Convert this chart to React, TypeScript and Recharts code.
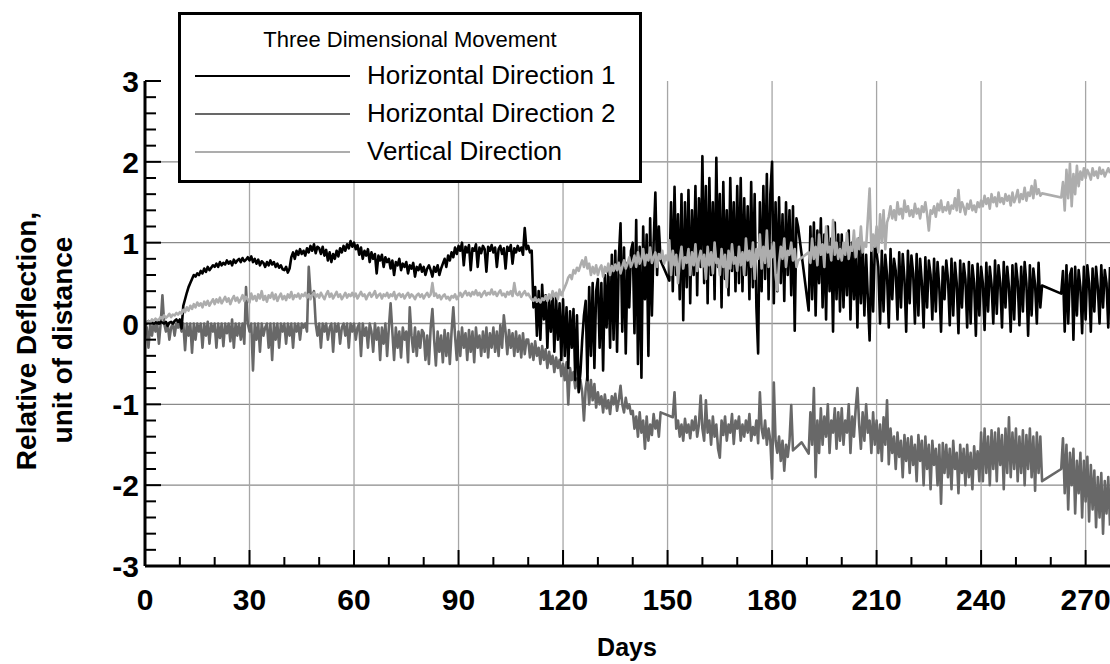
import { LineChart, Line, XAxis, YAxis, CartesianGrid } from 'recharts'

// one reading every half day (null = no record, line is bridged)
const STEP = 0.5

const horiz1 = [
  0.02, 0, 0.03, 0.01, 0.02, 0, 0.01, 0.03, 0, 0.02, 0.01, 0, 0.02, -0.03, 0.01, 0.02, 0, 0.03, 0.05, 0.02,
  0.05, -0.06, 0.22, 0.3, 0.38, 0.45, 0.5, 0.55, 0.6, 0.58, 0.62, 0.6, 0.65, 0.62, 0.68, 0.64, 0.7, 0.66, 0.69, 0.72,
  0.7, 0.74, 0.7, 0.76, 0.72, 0.75, 0.73, 0.78, 0.74, 0.77, 0.72, 0.79, 0.75, 0.78, 0.8, 0.76, 0.81, 0.77, 0.79, 0.82,
  0.78, 0.83, 0.76, 0.8, 0.74, 0.79, 0.72, 0.77, 0.75, 0.7, 0.76, 0.72, 0.78, 0.73, 0.76, 0.7, 0.74, 0.69, 0.72, 0.67,
  0.66, 0.7, 0.63, 0.68, 0.82, 0.88, 0.8, 0.9, 0.85, 0.92, 0.86, 0.9, 0.84, 0.93, 0.88, 0.96, 0.9, 0.98, 0.87, 0.95,
  0.93, 0.86, 0.95, 0.84, 0.91, 0.78, 0.88, 0.76, 0.86, 0.8, 0.9, 0.83, 0.93, 0.88, 0.96, 0.9, 0.98, 0.93, 1.02, 0.95,
  1.0, 0.92, 0.97, 0.85, 0.94, 0.8, 0.9, 0.84, 0.92, 0.76, 0.88, 0.8, 0.86, 0.62, 0.84, 0.78, 0.85, 0.7, 0.82, 0.76,
  0.8, 0.68, 0.78, 0.6, 0.76, 0.72, 0.8, 0.66, 0.74, 0.7, 0.76, 0.62, 0.72, 0.68, 0.75, 0.58, 0.7, 0.66, 0.73, 0.64,
  0.7, 0.6, 0.68, 0.72, 0.66, 0.58, 0.7, 0.64, 0.72, 0.6, 0.68, 0.74, 0.8, 0.7, 0.84, 0.78, 0.88, 0.82, 0.94, 0.86,
  0.96, 0.9, 1.0, 0.72, 0.95, 0.88, 0.97, 0.66, 0.93, 0.9, 0.98, 0.7, 0.94, 0.87, 0.96, 0.92, 0.64, 0.95, 0.9, 0.97,
  0.88, 0.94, 0.7, 0.92, 0.96, 0.86, 0.93, 0.68, 0.95, 0.9, 0.97, 0.74, 0.93, 0.88, 0.96, 0.9, 0.94, 0.85, 1.18, 0.92,
  0.96, 0.88, 0.9, 0.2, 0.45, -0.15, 0.4, -0.2, 0.48, 0.05, 0.35, -0.3, 0.3, -0.1, 0.38, -0.35, 0.32, -0.2, 0.25, -0.45,
  0.3, -0.4, 0.2, -0.55, 0.15, -0.3, 0.18, -0.7, 0.1, -0.85, -0.6, -0.2, 0.1, 0.28, -0.7, 0.45, -0.4, 0.5, -0.55, 0.4,
  0.55, -0.3, 0.5, -0.58, 0.6, -0.05, 0.7, -0.3, 0.85, -0.2, 0.9, -0.35, 0.8, 1.24, -0.1, 0.94, -0.37, 0.75, 0.2, 0.9,
  1.0, -0.12, 1.28, -0.5, 0.95, -0.67, 1.2, 0.3, 1.1, -0.4, 1.3, 0.1, 1.0, 1.62, 0.6, 1.2, 0.78, null, null, null,
  null, 0.53, 1.5, 0.4, 1.69, 0.6, 1.35, 0.3, 1.6, 0.04, 1.5, 0.45, 1.65, 0.25, 1.4, 0.6, 1.7, 0.35, 1.55, 0.7,
  2.07, 0.5, 1.7, 0.25, 1.8, 0.6, 1.5, 0.3, 2.05, 0.7, 1.6, 0.2, 1.75, 0.55, 1.4, 0.35, 1.8, 0.65, 1.5, 0.4,
  1.7, 0.5, 1.8, 0.4, 1.55, 0.6, 1.45, 0.3, 1.75, 0.45, 1.6, 0.2, -0.37, 1.5, 0.4, 1.7, 0.55, 1.85, 0.3, 1.6,
  2.0, 0.25, 1.5, 0.4, 1.56, 0.5, 1.35, 0.28, 1.5, 0.6, 1.4, 0.35, 1.45, -0.09, 1.3, 1.19, null, null, null, null,
  null, 0.16, 1.2, 0.3, 1.25, 0.1, 1.15, 0.5, 1.3, 0.2, 1.1, 0.05, 1.2, 0.4, 1.05, -0.1, 1.25, 0.3, 1.1, 0.15,
  1.1, 0.2, 0.95, 0.35, 1.15, 0.05, 1.0, 0.3, 0.9, -0.05, 1.05, 0.25, 0.95, 0.1, 0.85, 0.3, -0.21, 0.9, 0.15, 0.95,
  0.88, 0.7, 0.0, 0.9, 0.15, 0.85, 0.6, -0.05, 0.92, 0.3, 0.8, 0.65, 0.05, 0.88, 0.2, 0.86, 0.55, -0.1, 0.9, 0.25,
  0.84, 0.62, 0.0, 0.86, 0.1, 0.8, 0.5, -0.05, 0.82, 0.2, 0.78, 0.6, 0.05, 0.8, 0.15, 0.76, 0.45, -0.1, 0.7, 0.3,
  0.78, 0.55, -0.02, 0.8, 0.1, 0.75, 0.5, -0.12, 0.78, 0.2, 0.74, 0.55, -0.05, 0.76, 0.0, 0.72, 0.5, -0.15, 0.74, 0.1,
  0.7, 0.5, -0.08, 0.75, 0.15, 0.7, 0.48, 0.0, 0.78, 0.12, 0.72, 0.5, -0.05, 0.76, 0.2, 0.7, 0.45, -0.1, 0.72, 0.05,
  0.74, 0.52, -0.02, 0.7, 0.15, 0.76, 0.5, -0.15, 0.72, 0.1, 0.68, 0.48, 0.0, 0.75, 0.2, 0.47, null, null, null, null,
  null, null, null, null, null, null, 0.37, 0.65, -0.1, 0.72, 0.0, 0.6, 0.68, -0.2, 0.7, 0.1, 0.66, 0.45, -0.12, 0.7,
  0.05, 0.72, 0.5, -0.1, 0.68, 0.15, 0.7, 0.45, 0.0, 0.72, 0.2, 0.66, 0.5, -0.05, 0.7,
]

const horiz2 = [
  0.0, -0.05, -0.3, 0.0, -0.15, 0.0, -0.1, 0.0, -0.25, 0.0, 0.35, 0.0, -0.1, 0.0, -0.2, -0.05, 0.0, -0.15, 0.0, -0.05,
  0.0, -0.1, 0.0, -0.33, 0.0, -0.15, 0.0, -0.36, 0.0, -0.2, 0.0, -0.1, 0.0, -0.3, 0.0, -0.15, 0.02, -0.25, 0.0, -0.1,
  0.0, -0.3, 0.0, -0.18, 0.0, -0.28, 0.0, -0.12, 0.0, -0.22, 0.05, -0.3, 0.0, -0.15, 0.0, -0.2, 0.0, -0.25, 0.45, 0.0,
  -0.1, 0.0, -0.58, 0.0, -0.2, 0.0, -0.35, 0.0, -0.15, -0.05, 0.0, -0.3, 0.0, -0.45, 0.0, -0.2, 0.0, -0.3, 0.0, -0.1,
  0.0, -0.25, 0.0, -0.15, 0.0, -0.3, 0.0, -0.1, 0.0, -0.2, 0.0, -0.05, 0.0, -0.1, 0.7, 0.38, 0.35, 0.4, 0.0, -0.15,
  0.0, -0.3, 0.0, -0.1, 0.0, -0.2, -0.05, 0.0, -0.35, 0.0, -0.1, 0.0, -0.25, -0.05, 0.0, -0.15, 0.0, -0.3, 0.0, -0.1,
  0.0, -0.2, -0.05, 0.0, -0.4, 0.0, -0.15, -0.05, -0.3, 0.0, -0.1, -0.35, 0.0, -0.2, -0.05, -0.45, -0.05, -0.25, 0.0, -0.4,
  -0.05, 0.25, -0.1, -0.45, -0.05, -0.3, -0.1, -0.42, -0.05, -0.2, -0.1, -0.48, 0.2, -0.15, -0.35, -0.05, -0.4, -0.1, -0.3, -0.08,
  -0.12, -0.45, -0.15, -0.5, -0.05, 0.18, -0.2, -0.52, -0.1, -0.35, -0.15, -0.48, -0.08, -0.4, -0.12, -0.5, -0.1, 0.2, -0.15, -0.45,
  -0.1, -0.4, -0.05, -0.3, -0.12, -0.45, -0.08, -0.35, -0.1, -0.48, -0.05, -0.3, -0.15, -0.4, -0.1, -0.35, -0.05, -0.42, -0.12, -0.3,
  -0.05, -0.35, -0.1, -0.4, -0.02, -0.3, 0.1, -0.1, -0.38, -0.08, -0.3, -0.12, -0.4, -0.1, -0.35, -0.15, -0.42, -0.12, -0.38, -0.2,
  -0.2, -0.42, -0.25, -0.45, -0.22, -0.4, -0.3, -0.5, -0.28, -0.45, -0.32, -0.55, -0.35, -0.5, -0.4, -0.6, -0.42, -0.55, -0.45, -0.65,
  -0.5, -0.7, -0.48, -1.0, -0.55, -0.7, -0.6, -0.8, -0.68, -0.83, -0.7, -0.85, -1.2, -0.8, -0.65, -1.0, -0.7, -0.95, -0.75, -1.04,
  -0.85, -1.0, -0.9, -1.1, -0.88, -1.05, -0.95, -1.12, -0.9, -1.0, -0.87, -1.08, -0.95, -0.77, -1.0, -1.1, -0.92, -1.05, -1.0, -1.12,
  -1.08, -1.3, -1.15, -1.4, -1.1, -1.35, -1.2, -1.55, -1.15, -1.45, -1.25, -1.38, -1.12, -1.3, -1.2, -1.4, -1.1, null, null, null,
  null, null, null, -1.16, -0.85, -1.3, -1.2, -1.4, -1.25, -1.45, -1.18, -1.35, -1.25, -1.42, -1.2, -1.32, -1.15, -1.4, -1.25, -0.89,
  -1.3, -1.45, -0.95, -1.35, -1.2, -1.5, -1.15, -1.4, -1.25, -1.55, -1.66, -1.2, -1.38, -1.15, -1.45, -1.25, -1.35, -1.12, -1.49, -1.2,
  -1.3, -1.15, -1.45, -1.25, -1.4, -1.2, -1.35, -1.12, -1.45, -1.28, -1.38, -1.2, -1.48, -0.85, -1.3, -1.42, -1.2, -1.5, -1.3, -1.45,
  -1.92, -0.73, -1.45, -1.6, -1.4, -1.7, -1.45, -1.82, -1.5, -1.65, -1.45, -1.01, -1.57, null, null, null, null, -1.47, null, null,
  null, -1.61, -1.1, -1.5, -0.8, -1.9, -1.2, -1.6, -1.05, -1.5, -1.15, -1.4, -1.0, -1.6, -1.2, -1.35, -1.05, -1.55, -1.1, -1.45,
  -1.05, -1.5, -1.2, -1.35, -1.0, -1.6, -1.15, -1.4, -1.05, -0.8, -1.25, -1.55, -1.1, -1.45, -1.0, -1.35, -1.2, -1.6, -1.1, -1.5,
  -1.2, -1.6, -1.25, -1.7, -1.16, -1.5, -0.95, -1.74, -1.3, -1.6, -1.4, -1.8, -1.35, -1.65, -1.45, -1.9, -1.38, -1.7, -1.42, -1.85,
  -1.4, -1.75, -1.5, -1.95, -1.38, -1.7, -1.45, -2.0, -1.4, -1.8, -1.5, -2.05, -1.45, -1.75, -1.55, -2.0, -1.5, -2.23, -1.48, -1.85,
  -1.5, -1.9, -1.55, -2.05, -1.45, -1.8, -1.6, -2.1, -1.5, -1.85, -1.55, -2.0, -1.5, -1.9, -1.6, -2.05, -1.52, -1.8, -1.58, -1.95,
  -1.35, -1.95, -1.3, -1.85, -1.4, -2.0, -1.32, -1.8, -1.35, -1.95, -1.3, -1.75, -1.38, -2.05, -1.3, -1.85, -1.16, -1.9, -1.35, -1.8,
  -1.3, -1.95, -1.4, -1.85, -1.32, -2.0, -1.38, -1.8, -1.3, -1.9, -1.4, -2.07, -1.35, -1.85, -1.4, -1.95, null, null, null, null,
  null, null, null, null, null, null, -1.8, -1.42, -2.1, -1.5, -2.3, -1.6, -2.0, -1.55, -2.35, -1.7, -2.1, -1.6, -2.4, -1.7,
  -2.2, -1.65, -2.45, -1.75, -2.3, -1.82, -2.52, -1.9, -2.4, -1.85, -2.6, -1.95, -2.35, -1.9, -2.5,
]

const vertical = [
  0.0, 0.02, 0.03, 0.01, 0.05, 0.03, 0.06, 0.04, 0.05, 0.08, 0.06, 0.1, 0.07, 0.09, 0.12, 0.08, 0.11, 0.1, 0.13, 0.11,
  0.14, 0.12, 0.17, 0.14, 0.2, 0.16, 0.22, 0.18, 0.24, 0.2, 0.26, 0.22, 0.25, 0.2, 0.27, 0.23, 0.28, 0.22, 0.26, 0.3,
  0.24, 0.3, 0.26, 0.32, 0.25, 0.29, 0.33, 0.27, 0.31, 0.24, 0.3, 0.34, 0.28, 0.32, 0.26, 0.3, 0.35, 0.28, 0.33, 0.3,
  0.26, 0.37, 0.3, 0.34, 0.28, 0.36, 0.31, 0.4, 0.29, 0.34, 0.27, 0.35, 0.32, 0.38, 0.3, 0.36, 0.28, 0.33, 0.37, 0.3,
  0.34, 0.29, 0.36, 0.32, 0.39, 0.3, 0.35, 0.33, 0.37, 0.31, 0.36, 0.34, 0.38, 0.32, 0.36, 0.3, 0.35, 0.38, 0.33, 0.36,
  0.32, 0.38, 0.34, 0.3, 0.36, 0.4, 0.33, 0.37, 0.31, 0.35, 0.39, 0.33, 0.36, 0.3, 0.34, 0.38, 0.32, 0.36, 0.34, 0.38,
  0.33, 0.37, 0.31, 0.35, 0.39, 0.34, 0.36, 0.3, 0.35, 0.38, 0.33, 0.36, 0.4, 0.32, 0.35, 0.37, 0.31, 0.36, 0.34, 0.38,
  0.32, 0.36, 0.34, 0.39, 0.3, 0.35, 0.37, 0.33, 0.36, 0.31, 0.35, 0.38, 0.32, 0.36, 0.34, 0.3, 0.35, 0.37, 0.33, 0.36,
  0.31, 0.35, 0.38, 0.33, 0.36, 0.5, 0.34, 0.37, 0.32, 0.35, 0.3, 0.34, 0.36, 0.31, 0.33, 0.29, 0.34, 0.32, 0.36, 0.3,
  0.34, 0.38, 0.33, 0.37, 0.4, 0.35, 0.38, 0.34, 0.39, 0.36, 0.41, 0.35, 0.38, 0.33, 0.37, 0.4, 0.35, 0.38, 0.36, 0.42,
  0.36, 0.39, 0.34, 0.38, 0.41, 0.35, 0.37, 0.33, 0.39, 0.36, 0.4, 0.34, 0.5, 0.37, 0.35, 0.39, 0.33, 0.37, 0.4, 0.35,
  0.37, 0.33, 0.3, 0.28, 0.32, 0.27, 0.3, 0.26, 0.31, 0.29, 0.34, 0.28, 0.36, 0.3, 0.4, 0.33, 0.38, 0.3, 0.42, 0.35,
  0.4, 0.45, 0.5, 0.57, 0.6, 0.55, 0.66, 0.62, 0.69, 0.65, 0.72, 0.78, 0.7, 0.82, 0.68, 0.74, 0.6, 0.7, 0.62, 0.72,
  0.6, 0.68, 0.72, 0.58, 0.7, 0.64, 0.74, 0.6, 0.71, 0.65, 0.73, 0.66, 0.75, 0.62, 0.7, 0.78, 0.68, 0.74, 0.82, 0.7,
  0.76, 0.84, 0.7, 0.88, 0.74, 0.8, 0.92, 0.72, 0.85, 0.78, 0.94, 0.75, 0.82, 0.88, 0.7, 0.86, 0.8, 0.9, 0.74, 0.84,
  0.78, 1.03, 0.6, 0.9, 0.72, 0.85, 0.5, 0.8, 0.95, 0.68, 0.82, 0.75, 0.92, 0.6, 0.88, 0.72, 0.98, 0.65, 0.8, 0.9,
  0.7, 0.85, 0.55, 0.95, 0.72, 0.88, 0.62, 1.0, 0.75, 0.8, 0.6, 0.92, 0.7, 0.85, 0.45, 0.9, 0.68, 0.98, 0.74, 0.82,
  0.65, 0.95, 0.72, 0.88, 0.6, 1.05, 0.78, 0.9, 0.7, 1.0, 0.55, 0.92, 0.8, 1.1, 0.68, 0.95, 0.75, 1.15, 0.7, 0.9,
  0.82, 1.0, 0.6, 0.41, 0.75, 0.95, 0.8, 1.05, 0.7, 0.9, 0.85, 1.0, 0.78, 0.92, 0.7, 0.78, null, null, null, null,
  null, 0.88, 0.75, 1.05, 0.8, 0.95, 0.72, 1.1, 0.85, 0.98, 0.7, 1.2, 0.88, 0.95, 0.78, 1.28, 0.85, 1.0, 0.8, 0.92,
  0.78, 1.0, 0.85, 1.12, 0.8, 0.95, 0.9, 1.15, 0.82, 1.05, 0.92, 1.2, 0.88, 1.0, 0.95, 1.3, 1.67, 0.9, 1.1, 0.95,
  1.2, 0.88, 1.35, 1.0, 1.4, 0.92, 1.25, 1.32, 1.45, 1.3, 1.4, 1.28, 1.5, 1.35, 1.42, 1.3, 1.52, 1.38, 1.45, 1.33,
  1.4, 1.32, 1.48, 1.36, 1.42, 1.3, 1.45, 1.38, 1.5, 1.35, 1.15, 1.4, 1.36, 1.45, 1.32, 1.48, 1.4, 1.52, 1.38, 1.44,
  1.4, 1.5, 1.36, 1.46, 1.42, 1.55, 1.4, 1.65, 1.38, 1.5, 1.44, 1.35, 1.48, 1.42, 1.52, 1.4, 1.46, 1.38, 1.5, 1.44,
  1.52, 1.45, 1.58, 1.48, 1.55, 1.42, 1.6, 1.5, 1.56, 1.45, 1.62, 1.5, 1.55, 1.48, 1.6, 1.52, 1.58, 1.46, 1.62, 1.5,
  1.56, 1.65, 1.5, 1.6, 1.54, 1.68, 1.52, 1.62, 1.58, 1.7, 1.55, 1.77, 1.6, 1.66, 1.58, 1.61, null, null, null, null,
  null, null, null, null, null, null, 1.56, 1.75, 1.4, 1.9, 1.55, 1.98, 1.45, 1.85, 1.6, 1.95, 1.7, 1.88, 1.78, 1.92,
  1.8, 1.9, 1.85, 1.78, 1.92, 1.83, 1.88, 1.8, 1.93, 1.85, 1.9, 1.82, 1.87, 1.92, 1.86,
]

const dayTicks = [0, 10, 20, 30, 40, 50, 60, 70, 80, 90, 100, 110, 120, 130, 140, 150, 160, 170, 180, 190, 200, 210, 220, 230, 240, 250, 260, 270]
const dayGrid = [30, 60, 90, 120, 150, 180, 210, 240, 270]
const yTicks = [-3, -2.8, -2.6, -2.4, -2.2, -2, -1.8, -1.6, -1.4, -1.2, -1, -0.8, -0.6, -0.4, -0.2, 0, 0.2, 0.4, 0.6, 0.8, 1, 1.2, 1.4, 1.6, 1.8, 2, 2.2, 2.4, 2.6, 2.8, 3]
const yGrid = [-2, -1, 0, 1, 2]

const series = [
  { key: 'h2', name: 'Horizontal Direction 2', color: '#686868' },
  { key: 'h1', name: 'Horizontal Direction 1', color: '#000000' },
  { key: 'vert', name: 'Vertical Direction', color: '#adadad' },
]
const legendOrder = ['h1', 'h2', 'vert']

const data = horiz1.map((v, i) => ({ day: i * STEP, h1: v, h2: horiz2[i], vert: vertical[i] }))

const FONT = '"Liberation Sans", Arial, Helvetica, sans-serif'
const tickText = { fontFamily: FONT, fontWeight: 700, fontSize: 30, fill: '#000' }

const majorDay = (v: number) => v % 30 === 0
const majorY = (v: number) => Math.abs(v - Math.round(v)) < 1e-6

function BottomTick({ x, y, payload }: any) {
  const major = majorDay(payload.value)
  return (
    <g>
      <line x1={x} y1={y} x2={x} y2={y - (major ? 16 : 9)} stroke="#000" strokeWidth={2} />
      {major && <text x={x} y={y + 44} textAnchor="middle" style={tickText}>{payload.value}</text>}
    </g>
  )
}

function TopTick({ x, y, payload }: any) {
  const major = majorDay(payload.value)
  return <line x1={x} y1={y} x2={x} y2={y + (major ? 16 : 9)} stroke="#000" strokeWidth={2} />
}

function LeftTick({ x, y, payload }: any) {
  const major = majorY(payload.value)
  return (
    <g>
      <line x1={x} y1={y} x2={x + (major ? 16 : 11)} y2={y} stroke="#000" strokeWidth={2} />
      {major && <text x={x - 6} y={y + 11} textAnchor="end" style={tickText}>{Math.round(payload.value)}</text>}
    </g>
  )
}

function RightTick({ x, y, payload }: any) {
  const major = majorY(payload.value)
  return <line x1={x} y1={y} x2={x - (major ? 16 : 11)} y2={y} stroke="#000" strokeWidth={2} />
}

const axisLine = { stroke: '#000', strokeWidth: 3 }

export default function App() {
  const colorOf = (k: string) => series.find((s) => s.key === k)!
  return (
    <div style={{ position: 'absolute', left: 0, top: 0, width: 1110, height: 664, background: '#fff' }}>
      <LineChart width={1110} height={664} data={data} margin={{ top: 81, right: 0, bottom: 0, left: 0 }}>
        <CartesianGrid vertical={false} horizontalValues={yGrid} stroke="#8a8a8a" strokeWidth={1.3} />
        <CartesianGrid horizontal={false} verticalValues={dayGrid} stroke="#a6a6a6" strokeWidth={1.3} />
        <XAxis dataKey="day" type="number" domain={[0, 277]} allowDataOverflow ticks={dayTicks} height={98}
          tickSize={0} tickMargin={0} tickLine={false} axisLine={axisLine} tick={<BottomTick />} interval={0} />
        <XAxis xAxisId="top" orientation="top" type="number" dataKey="day" domain={[0, 277]} allowDataOverflow ticks={dayTicks}
          height={0} tickSize={0} tickMargin={0} tickLine={false} axisLine={axisLine} tick={<TopTick />} interval={0} />
        <YAxis type="number" domain={[-3, 3]} allowDataOverflow ticks={yTicks} width={145}
          tickSize={0} tickMargin={0} tickLine={false} axisLine={axisLine} tick={<LeftTick />} interval={0} />
        <YAxis yAxisId="right" orientation="right" type="number" domain={[-3, 3]} allowDataOverflow ticks={yTicks} width={0}
          tickSize={0} tickMargin={0} tickLine={false} axisLine={false} tick={<RightTick />} interval={0} />
        {series.map((s) => (
          <Line key={s.key} type="linear" dataKey={s.key} name={s.name} stroke={s.color} strokeWidth={2.6}
            strokeLinejoin="round" dot={false} activeDot={false} connectNulls isAnimationActive={false} />
        ))}
      </LineChart>

      <svg width={1110} height={664} style={{ position: 'absolute', left: 0, top: 0, pointerEvents: 'none' }}>
        <text transform="translate(36,341) rotate(-90)" textAnchor="middle"
          style={{ fontFamily: FONT, fontWeight: 700, fontSize: 28, fill: '#000' }}>Relative Deflection,</text>
        <text transform="translate(72,340) rotate(-90)" textAnchor="middle"
          style={{ fontFamily: FONT, fontWeight: 700, fontSize: 28, fill: '#000' }}>unit of distance</text>
        <text x={627} y={656} textAnchor="middle"
          style={{ fontFamily: FONT, fontWeight: 700, fontSize: 25, fill: '#000' }}>Days</text>

        <rect x={179.5} y={13.5} width={461} height={168} fill="#fff" stroke="#000" strokeWidth={3} />
        <text x={410} y={47} textAnchor="middle" style={{ fontFamily: FONT, fontSize: 22, fill: '#000' }}>
          Three Dimensional Movement
        </text>
        {legendOrder.map((k, i) => {
          const s = colorOf(k)
          const ly = 76 + i * 38
          return (
            <g key={k}>
              <line x1={195} y1={ly} x2={350} y2={ly} stroke={s.color} strokeWidth={2} />
              <text x={367} y={ly + 8} style={{ fontFamily: FONT, fontSize: 26, fill: '#000' }}>{s.name}</text>
            </g>
          )
        })}
      </svg>
    </div>
  )
}
